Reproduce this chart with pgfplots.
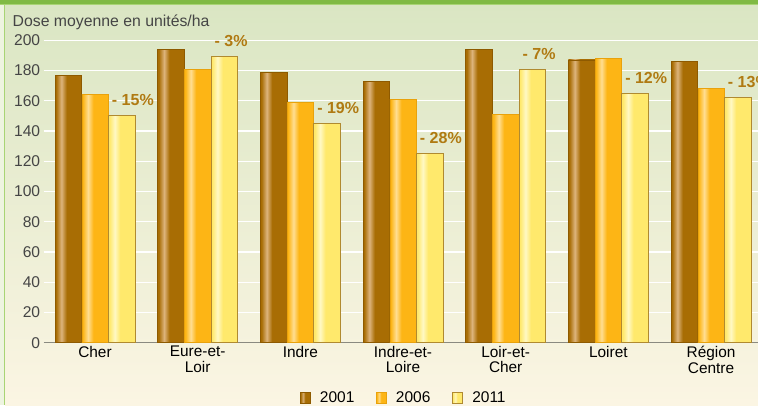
\documentclass[border=0pt]{standalone}
\usepackage{pgfplots}
\pgfplotsset{compat=1.18}
\usepackage{pgfplotstable}
\usetikzlibrary{backgrounds}
\usepackage{fontspec}
\setmainfont{Liberation Sans}

\definecolor{cA}{HTML}{A86D04}
\definecolor{cAl}{HTML}{DDB47C}
\definecolor{cAd}{HTML}{8E5A00}
\definecolor{cB}{HTML}{FDB515}
\definecolor{cBl}{HTML}{FFDE92}
\definecolor{cBd}{HTML}{E9A20C}
\definecolor{cC}{HTML}{FFE96C}
\definecolor{cCl}{HTML}{FFF8C4}
\definecolor{cCd}{HTML}{B08A30}
\definecolor{labc}{HTML}{B07A12}
\definecolor{bgtop}{HTML}{DAE6C3}
\definecolor{bgbot}{HTML}{FBF5E3}
\definecolor{greenbar}{HTML}{80BA44}
\definecolor{greenline}{HTML}{A8D474}
\definecolor{paleedge}{HTML}{EEF4E0}
\definecolor{ticktext}{HTML}{454545}
\definecolor{axisgray}{HTML}{8A8A80}

\pgfdeclarehorizontalshading{shA}{100bp}{color(0bp)=(cA); color(27bp)=(cA); color(37bp)=(cAl); color(47bp)=(cA); color(100bp)=(cA)}
\pgfdeclarehorizontalshading{shB}{100bp}{color(0bp)=(cB); color(27bp)=(cB); color(37bp)=(cBl); color(47bp)=(cB); color(100bp)=(cB)}
\pgfdeclarehorizontalshading{shC}{100bp}{color(0bp)=(cC); color(27bp)=(cC); color(37bp)=(cCl); color(47bp)=(cC); color(100bp)=(cC)}

\pgfplotstableread[col sep=comma]{
x,a,b,c,lab
0,177,164,150,- 15\%
1,194,181,189,- 3\%
2,179,159,145,- 19\%
3,173,161,125,- 28\%
4,194,151,181,- 7\%
5,187,188,165,- 12\%
6,186,168,162,- 13\%
}\dosetable

\begin{document}
\begin{tikzpicture}[x=1pt,y=1pt]
\begin{axis}[
  at={(95pt,62.3pt)}, anchor=origin,
  scale only axis,
  width=714.6pt, height=302.4pt,
  xmin=-0.5, xmax=6.46, ymin=0, ymax=200,
  enlargelimits=false,
  clip=false,
  xtick={0,...,6},
  xticklabels={Cher,{Eure-et-\\Loir},Indre,{Indre-et-\\Loire},{Loir-et-\\Cher},Loiret,{Région\\Centre}},
  ytick={0,20,...,200},
  /pgf/number format/assume math mode=true,
  major tick length=0pt,
  ymajorgrids,
  grid style={white, line width=1.4pt},
  axis lines*=left,
  axis line style={-},
  y axis line style={draw=none},
  x axis line style={axisgray, line width=1.1pt},
  yticklabel style={font=\fontsize{15.6}{17}\selectfont, text=ticktext},
  xticklabel style={font=\fontsize{15.4}{15.5}\selectfont, text=black, align=center, yshift=0pt},
  bar width=26.5pt,
  legend columns=3,
  legend style={at={(0.5,0)}, anchor=center, yshift=-54.8pt, xshift=3pt, draw=none, fill=none,
    font=\fontsize{15.5}{17}\selectfont,
    /tikz/every odd column/.append style={column sep=7pt},
    /tikz/every even column/.append style={column sep=20pt}},
  legend image code/.code={\draw[#1] (0pt,-5.5pt) rectangle (10pt,5.5pt);},
]
\addlegendimage{shading=shA, draw=cAd, line width=0.6pt}
\addlegendentry{2001}
\addlegendimage{shading=shB, draw=cBd, line width=0.5pt}
\addlegendentry{2006}
\addlegendimage{shading=shC, draw=cCd, line width=0.9pt}
\addlegendentry{2011}
\pgfplotsinvokeforeach{0,...,6}{
\addplot[ybar, forget plot, bar shift=-26.7pt, shading=shA, draw=cAd, line width=0.6pt,
  x filter/.expression={x==#1 ? x : nan}] table[x=x, y=a] {\dosetable};
\addplot[ybar, forget plot, bar shift=0pt, shading=shB, draw=cBd, line width=0.5pt,
  x filter/.expression={x==#1 ? x : nan}] table[x=x, y=b] {\dosetable};
\addplot[ybar, forget plot, bar shift=26.7pt, shading=shC, draw=cCd, line width=0.9pt,
  x filter/.expression={x==#1 ? x : nan},
  nodes near coords, point meta=explicit symbolic,
  every node near coord/.append style={anchor=base west, xshift=16.5pt, yshift=10pt, inner sep=0pt,
    text=labc, font=\bfseries\fontsize{16}{17}\selectfont}]
  table[x=x, y=c, meta=lab] {\dosetable};
}
\end{axis}
\begin{pgfonlayer}{background}
\fill[paleedge] (0,0) rectangle (758,405);
\shade[top color=bgtop, bottom color=bgbot] (5,0) rectangle (758,401);
\fill[greenline] (3.5,0) rectangle (5,401);
\fill[greenbar] (0,401) rectangle (758,405);
\fill[greenline] (0,400) rectangle (758,401);
\end{pgfonlayer}
\node[anchor=base west, inner sep=0pt, text=ticktext, font=\fontsize{15.8}{17}\selectfont] at (12.5,378.5) {Dose moyenne en unités/ha};
\pgfresetboundingbox
\useasboundingbox (0,0) rectangle (758,405);
\end{tikzpicture}
\end{document}
